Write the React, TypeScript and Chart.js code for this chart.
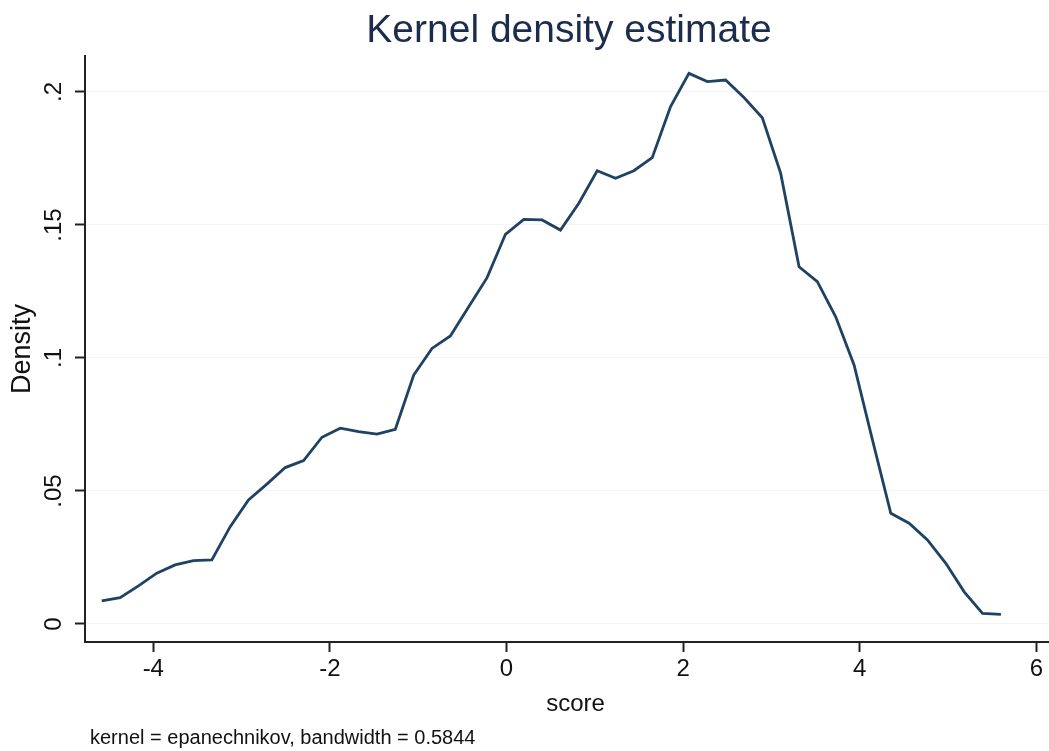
import React, { useEffect, useRef } from "react";
import { Chart, registerables } from "chart.js";

Chart.register(...registerables);

// Evaluation points (score) and estimated density values
const scorePoints = [
  -4.584, -4.376, -4.168, -3.961, -3.753, -3.545, -3.337, -3.129, -2.922, -2.714,
  -2.506, -2.298, -2.09, -1.883, -1.675, -1.467, -1.259, -1.051, -0.844, -0.636,
  -0.428, -0.22, -0.012, 0.196, 0.403, 0.611, 0.819, 1.027, 1.235, 1.442,
  1.65, 1.858, 2.066, 2.274, 2.481, 2.689, 2.897, 3.105, 3.313, 3.52,
  3.728, 3.936, 4.144, 4.352, 4.559, 4.767, 4.975, 5.183, 5.391, 5.599,
];
const densityValues = [
  0.0087, 0.0099, 0.0143, 0.0191, 0.0222, 0.0238, 0.0241, 0.0366, 0.0466, 0.0526,
  0.0588, 0.0614, 0.0702, 0.0736, 0.0723, 0.0714, 0.0732, 0.0936, 0.1036, 0.1083,
  0.1193, 0.1302, 0.1465, 0.1521, 0.1519, 0.1481, 0.1582, 0.1704, 0.1676, 0.1704,
  0.1753, 0.1945, 0.207, 0.2039, 0.2045, 0.1979, 0.1903, 0.1694, 0.1343, 0.1287,
  0.1155, 0.0974, 0.0692, 0.0416, 0.0379, 0.0316, 0.0228, 0.0121, 0.004, 0.0036,
];
const xTicks = [-4, -2, 0, 2, 4, 6];
const xTickLabels = ["-4", "-2", "0", "2", "4", "6"];
const yTicks = [0, 0.05, 0.1, 0.15, 0.2];
const yTickLabels = ["0", ".05", ".1", ".15", ".2"];

const titleText = "Kernel density estimate";
const xTitle = "score";
const yTitle = "Density";
const noteText = "kernel = epanechnikov, bandwidth = 0.5844";

const FONT = "'Liberation Sans', Arial, Helvetica, sans-serif";

export default function App() {
  const canvasRef = useRef<HTMLCanvasElement | null>(null);

  useEffect(() => {
    const canvas = canvasRef.current;
    if (!canvas) return;

    const textPlugin = {
      id: "stataText",
      afterDraw(chart: any) {
        const ctx = chart.ctx as CanvasRenderingContext2D;
        const area = chart.chartArea;
        const yScale = chart.scales.y;
        ctx.save();
        // title
        ctx.fillStyle = "#1c2c4c";
        ctx.font = `39px ${FONT}`;
        ctx.textAlign = "center";
        ctx.textBaseline = "middle";
        ctx.fillText(titleText, 569, 31);

        // y tick labels (rotated)
        ctx.fillStyle = "#111";
        ctx.font = `24px ${FONT}`;
        yTicks.forEach((v, i) => {
          const py = yScale.getPixelForValue(v);
          ctx.save();
          ctx.translate(54, py);
          ctx.rotate(-Math.PI / 2);
          ctx.textAlign = "center";
          ctx.textBaseline = "middle";
          ctx.fillText(yTickLabels[i], 0, 0);
          ctx.restore();
        });

        // y title
        ctx.save();
        ctx.font = `27px ${FONT}`;
        ctx.translate(23, (area.top + area.bottom) / 2);
        ctx.rotate(-Math.PI / 2);
        ctx.textAlign = "center";
        ctx.textBaseline = "middle";
        ctx.fillText(yTitle, 0, 0);
        ctx.restore();

        // x title
        ctx.font = `24px ${FONT}`;
        ctx.textAlign = "center";
        ctx.textBaseline = "middle";
        ctx.fillText(xTitle, (area.left + area.right) / 2, 704);

        // note
        ctx.font = `20px ${FONT}`;
        ctx.textAlign = "left";
        ctx.fillText(noteText, 90, 738);
        ctx.restore();
      },
    };

    const chart = new Chart(canvas, {
      type: "line",
      data: {
        datasets: [
          {
            data: scorePoints.map((x, i) => ({ x, y: densityValues[i] })),
            borderColor: "#1f4262",
            borderWidth: 2.8,
            pointRadius: 0,
            fill: false,
            tension: 0,
          },
        ],
      },
      options: {
        animation: false,
        responsive: false,
        maintainAspectRatio: false,
        layout: { padding: { top: 56, left: 0, right: 0, bottom: 0 } },
        plugins: {
          legend: { display: false },
          tooltip: { enabled: false },
          title: { display: false },
        },
        scales: {
          x: {
            type: "linear",
            min: -4.7735,
            max: 6.336,
            afterBuildTicks: (scale: any) => {
              scale.ticks = xTicks.map((v) => ({ value: v }));
            },
            afterFit: (scale: any) => {
              scale.height = 109;
            },
            ticks: {
              color: "#111",
              font: { family: FONT, size: 24 },
              padding: 3,
              maxRotation: 0,
              minRotation: 0,
              callback: (v: any) => {
                const i = xTicks.indexOf(Number(v));
                return i >= 0 ? xTickLabels[i] : "";
              },
            },
            grid: {
              display: true,
              drawOnChartArea: false,
              drawTicks: true,
              tickLength: 10,
              tickColor: "#222",
              tickWidth: 2,
            },
            border: { display: true, color: "#222", width: 2 },
          },
          y: {
            type: "linear",
            min: -0.00677,
            max: 0.21353,
            afterBuildTicks: (scale: any) => {
              scale.ticks = yTicks.map((v) => ({ value: v }));
            },
            afterFit: (scale: any) => {
              scale.width = 85;
            },
            ticks: { display: false },
            grid: {
              display: true,
              drawOnChartArea: true,
              drawTicks: true,
              tickLength: 10,
              color: "#f4f4f4",
              lineWidth: 1,
              tickColor: "#222",
              tickWidth: 2,
            },
            border: { display: true, color: "#222", width: 2 },
          },
        },
      },
      plugins: [textPlugin],
    } as any);

    return () => chart.destroy();
  }, []);

  return (
    <div
      style={{
        position: "fixed",
        left: 0,
        top: 0,
        width: 1049,
        height: 751,
        overflow: "hidden",
        background: "#fff",
      }}
    >
      <canvas
        ref={canvasRef}
        width={1066}
        height={751}
        style={{ width: 1066, height: 751, display: "block" }}
      />
    </div>
  );
}
